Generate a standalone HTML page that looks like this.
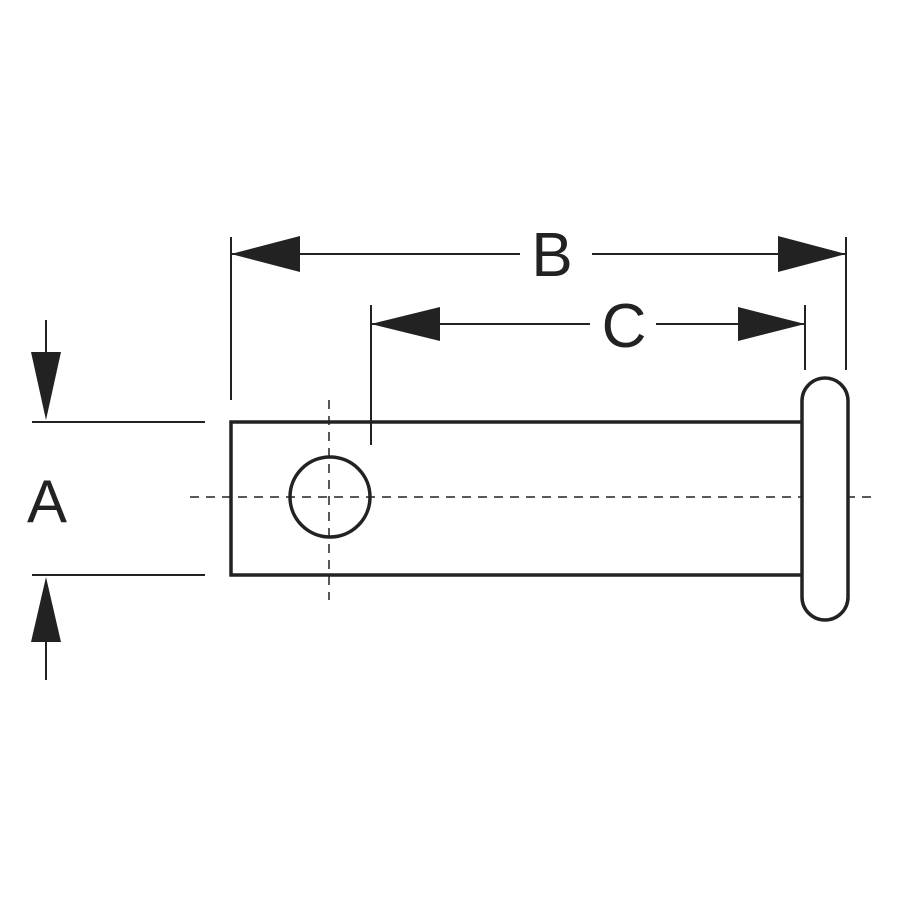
<!DOCTYPE html>
<html><head><style>
html,body{margin:0;padding:0;background:#fff;}
svg{display:block;}
text{font-family:"Liberation Sans",sans-serif;fill:#222;}
</style></head><body>
<svg width="900" height="900" viewBox="0 0 900 900" xmlns="http://www.w3.org/2000/svg">
<g stroke="#222" fill="none" stroke-width="2">
<!-- centerlines -->
<line x1="190" y1="497" x2="876" y2="497" stroke-dasharray="9,7" stroke-width="1.5"/>
<line x1="329" y1="400" x2="329" y2="600" stroke-dasharray="9,7" stroke-width="1.5"/>
<!-- body -->
<rect x="231" y="422" width="574" height="153" stroke-width="3.5"/>
<rect x="802" y="378" width="46" height="242" rx="23" ry="23" stroke-width="3.5" fill="#fff"/>
<circle cx="330" cy="497" r="40" stroke-width="3.5"/>
<!-- extension lines -->
<line x1="231" y1="237" x2="231" y2="400"/>
<line x1="846" y1="237" x2="846" y2="370"/>
<line x1="371" y1="305" x2="371" y2="445"/>
<line x1="805" y1="305" x2="805" y2="370"/>
<!-- B dim -->
<line x1="231" y1="254" x2="520" y2="254"/>
<line x1="592" y1="254" x2="846" y2="254"/>
<!-- C dim -->
<line x1="371" y1="324" x2="590" y2="324"/>
<line x1="656" y1="324" x2="805" y2="324"/>
<!-- A dim -->
<line x1="32" y1="422" x2="205" y2="422"/>
<line x1="32" y1="575" x2="205" y2="575"/>
<line x1="46" y1="320" x2="46" y2="360"/>
<line x1="46" y1="640" x2="46" y2="680"/>
</g>
<g fill="#222">
<polygon points="231,254 300,236 300,272"/>
<polygon points="846,254 778,236 778,272"/>
<polygon points="371,324 440,307 440,341"/>
<polygon points="805,324 738,307 738,341"/>
<polygon points="46,420 31,352 61,352"/>
<polygon points="46,577 31,642 61,642"/>
</g>
<text x="552" y="276" font-size="62" text-anchor="middle">B</text>
<text x="624" y="347" font-size="62" text-anchor="middle">C</text>
<text x="47" y="522" font-size="60" text-anchor="middle">A</text>
</svg>
</body></html>
